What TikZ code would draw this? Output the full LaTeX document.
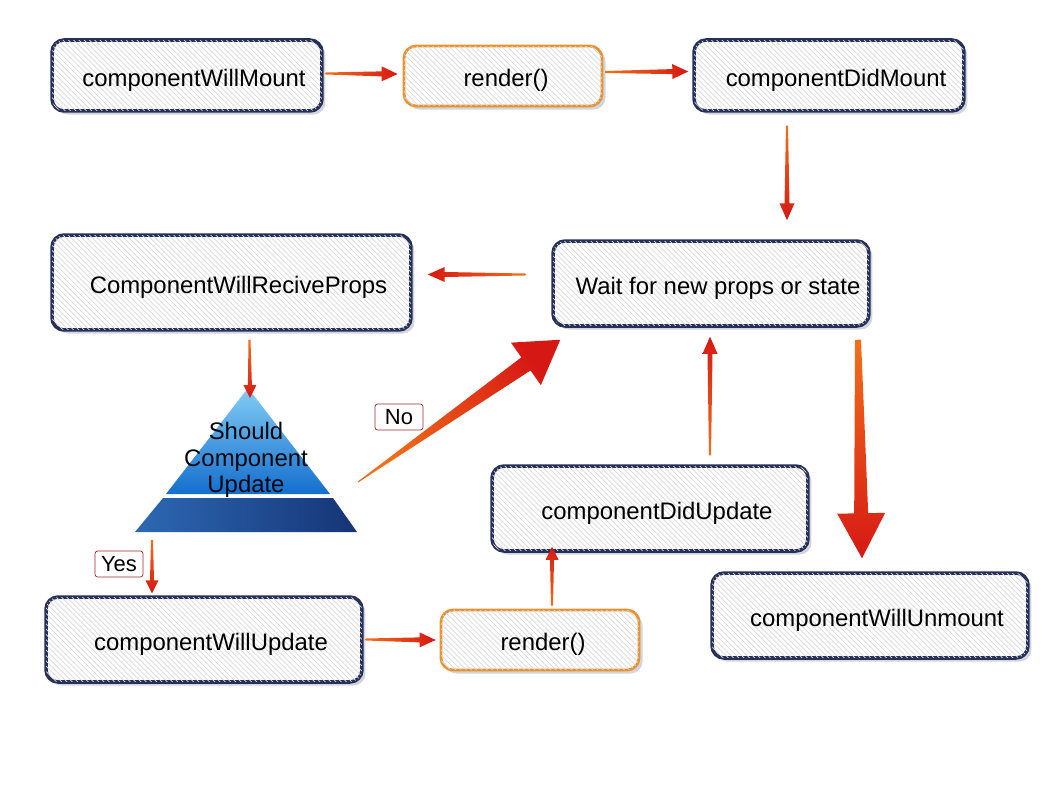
\documentclass[tikz,border=0pt]{standalone}
\usepackage{fontspec}
\setmainfont{Liberation Sans}
\usetikzlibrary{shadows, positioning, calc, patterns}
\definecolor{my_navy}{RGB}{38, 48, 88}
\definecolor{my_orange}{RGB}{232, 146, 50}
\definecolor{my_red}{RGB}{214, 24, 20}
\definecolor{my_tail}{RGB}{242, 112, 26}
\definecolor{my_darkred}{RGB}{160, 42, 42}
\definecolor{my_skyblue}{RGB}{130, 205, 245}
\definecolor{my_midblue}{RGB}{20, 110, 205}
\definecolor{my_deepblue}{RGB}{45, 105, 180}
\definecolor{my_darkblue}{RGB}{22, 52, 118}
\tikzset {
  basebox/.style = {draw=my_navy, line width=2pt, rounded corners=0.24cm, rectangle, fill=white,
    minimum width=6.32cm, minimum height=1.7cm, text height=12pt, text depth=0pt,
    font=\fontsize{13.6}{16}\selectfont,
    drop shadow={fill=my_navy!45, opacity=0.45, shadow xshift=2pt, shadow yshift=-2pt},
    postaction={pattern=north west lines, pattern color=gray!30}},
  box/.style = {basebox, execute at begin node=\hspace*{0.28cm}},
  renderbox/.style = {basebox, draw=my_orange, line width=1.6pt, minimum width=3.96cm, minimum height=1.2cm,
    execute at begin node=\hspace*{0.12cm}},
  answer/.style = {draw=my_darkred, fill=white, rounded corners=1.5pt, inner sep=2pt,
    minimum width=0.96cm, minimum height=0.52cm, font=\fontsize{12.5}{14}\selectfont},
  question/.style = {align=center, inner sep=0pt, text=black!85!my_navy, font=\fontsize{13.6}{15.1}\selectfont}
}
% tapered arrow: start, end, tail, neck, head half widths (px), head length (px), shading angle
\newcommand{\taper}[7]{%
  \pgfmathsetmacro\taTail{#3*0.02}\pgfmathsetmacro\taNeck{#4*0.02}%
  \pgfmathsetmacro\taHead{#5*0.02}\pgfmathsetmacro\taLen{#6*0.02}%
  \coordinate (ta-s) at #1;
  \coordinate (ta-e) at #2;
  \coordinate (ta-h) at ($(ta-e)!\taLen cm!(ta-s)$);
  \shade[top color=my_red, bottom color=my_tail, shading angle=#7]
    ($(ta-s)!\taTail cm!90:(ta-e)$) -- ($(ta-h)!\taNeck cm!90:(ta-e)$) -- ($(ta-h)!\taHead cm!90:(ta-e)$)
    -- (ta-e) -- ($(ta-h)!\taHead cm!-90:(ta-e)$) -- ($(ta-h)!\taNeck cm!-90:(ta-e)$)
    -- ($(ta-s)!\taTail cm!-90:(ta-e)$) -- cycle;
}

\begin{document}
\begin{tikzpicture}[x=0.02cm, y=-0.02cm]
    \useasboundingbox (0,0) rectangle (1058,794);

    \node[box, minimum width=5.4cm, minimum height=1.42cm] (cwm) at (187,75.5) {componentWillMount};
    \node[renderbox] (render1) at (503,76) {render()};
    \node[box, minimum width=5.4cm, minimum height=1.42cm] (cdm) at (829,75.5) {componentDidMount};
    \node[box, minimum width=7.18cm, minimum height=1.9cm] (cwrp) at (231.5,282.5) {ComponentWillReciveProps};
    \node[box] (wait) at (711,283.5) {Wait for new props or state};
    \node[box] (cdu) at (650,508.5) {componentDidUpdate};
    \node[box] (cwun) at (870,615.5) {componentWillUnmount};
    \node[box] (cwu) at (204,639.5) {componentWillUpdate};
    \node[renderbox] (render2) at (540,640) {render()};

    % pyramid
    \coordinate (apex) at (248,388);
    \coordinate (base) at (246,532);
    \shade[top color=my_skyblue, bottom color=my_midblue] (apex) -- (330,494) -- (166,494) -- cycle;
    \shade[left color=my_deepblue, right color=my_darkblue] (163,498) -- (333,498) -- (357,532) -- (135,532) -- cycle;
    \node[question] (scu) at (246,460) {Should\\Component\\Update};

    \taper{($(cwm.east)+(2,-2)$)}{($(render1.west)+(-5,-2)$)}{1}{2.5}{7.5}{16}{-90}
    \taper{($(render1.east)+(2,-4)$)}{($(cdm.west)+(-4,-4)$)}{1}{2.5}{7.5}{16}{-90}
    \taper{($(cdm.south)+(-42,13)$)}{($(wait.north)+(76,-19)$)}{1}{2.5}{7.5}{17}{-180}
    \taper{($(wait.west)+(-26,-9)$)}{($(cwrp.east)+(15,-8)$)}{1}{2.5}{7.5}{17}{90}
    \taper{($(cwrp.south)+(18,8)$)}{($(apex)+(2,10)$)}{1}{2}{6.5}{13}{-180}
    \taper{($(base)+(-94,8)$)}{($(cwu.north)+(-52,-2)$)}{1}{2}{6.5}{13}{-180}
    \taper{($(base)+(112,-50)$)}{($(wait.south west)+(9,12)$)}{0.5}{8}{26}{42}{-55}
    \taper{($(wait.south)+(147,12)$)}{($(cwun.north)+(-8,-13)$)}{3}{7}{24}{45}{-180}
    \taper{($(cwu.east)+(2,0)$)}{($(render2.west)+(-4,0)$)}{1}{2.5}{7.5}{16}{-90}
    \taper{($(render2.north)+(12,-3)$)}{($(cdu.south)+(-98,-6)$)}{1}{2}{6.5}{13}{0}
    \taper{($(cdu.north)+(60,-9)$)}{($(wait.south)+(-1,9)$)}{1}{2.5}{7.5}{17}{0}

    \node[answer] (no) at (399,417) {No};
    \node[answer] (yes) at (119,564) {Yes};
\end{tikzpicture}
\end{document}
